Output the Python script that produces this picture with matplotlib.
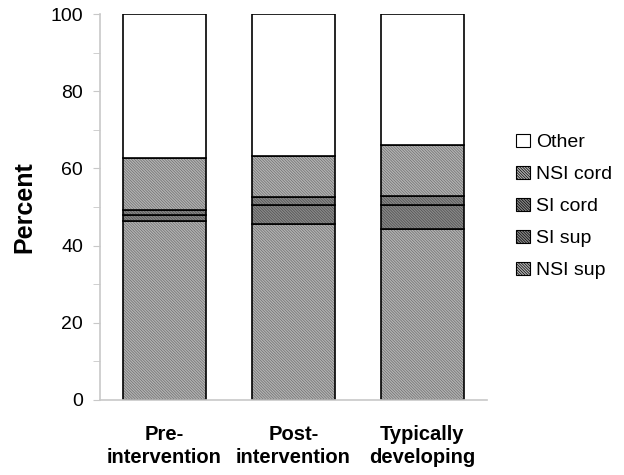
import numpy as np
import matplotlib.pyplot as plt
from matplotlib.patches import Patch
from matplotlib.ticker import MultipleLocator

plt.rcParams['font.family'] = ['Liberation Sans', 'DejaVu Sans']
plt.rcParams['hatch.linewidth'] = 0.5

groups = ["Pre-\nintervention", "Post-\nintervention", "Typically\ndeveloping"]
series = ["NSI sup", "SI sup", "SI cord", "NSI cord", "Other"]
nsi_sup = [46.4, 45.5, 44.3]
si_sup = [1.4, 5.0, 6.1]
si_cord = [1.4, 2.0, 2.4]
nsi_cord = [13.6, 10.8, 13.3]
other = [37.2, 36.7, 33.9]

values = [nsi_sup, si_sup, si_cord, nsi_cord, other]
faces = ["#b4b4b4", "#8a8a8a", "#8a8a8a", "#b4b4b4", "white"]
hatch_cols = ["#6e6e6e", "#4e4e4e", "#4e4e4e", "#6e6e6e", "black"]
hatches = ["\\" * 12, "\\" * 12, "\\" * 12, "\\" * 12, None]


def main():
    fig = plt.figure(figsize=(6.24, 4.75), dpi=100)
    ax = fig.add_axes([0.160, 0.158, 0.620, 0.8125])

    x = np.arange(len(groups))
    bottom = np.zeros(len(groups))
    handles = []
    for name, vals, fc, hc, h in zip(series, values, faces, hatch_cols, hatches):
        ax.bar(x, vals, 0.645, bottom=bottom, color=fc, hatch=h,
               edgecolor=hc, linewidth=0)
        # black outline on top of the hatch
        ax.bar(x, vals, 0.645, bottom=bottom, fill=False, edgecolor="black",
               linewidth=1.2)
        bottom += np.array(vals)
        handles.append(Patch(facecolor=fc, hatch=h, edgecolor=hc, label=name))

    ax.set_xlim(-0.5, 2.5)
    ax.set_ylim(0, 100)
    ax.set_xticks(x)
    ax.set_xticklabels(groups, fontsize=14.5, fontweight="bold", linespacing=1.25)
    ax.tick_params(axis="x", length=0, pad=18)
    ax.yaxis.set_major_locator(MultipleLocator(20))
    ax.yaxis.set_minor_locator(MultipleLocator(10))
    ax.tick_params(axis="y", which="both", colors="#c8c8c8", labelcolor="black",
                   labelsize=14, length=5, pad=7)
    ax.set_ylabel("Percent", fontsize=18, fontweight="bold", labelpad=10)

    for s in ["top", "right"]:
        ax.spines[s].set_visible(False)
    for s in ["left", "bottom"]:
        ax.spines[s].set_color("#c8c8c8")
        ax.spines[s].set_linewidth(1.2)

    # legend boxes with black outline, top entry first
    leg_handles = []
    for hd in handles[::-1]:
        leg_handles.append(Patch(facecolor=hd.get_facecolor(), hatch=hd.get_hatch(),
                                 edgecolor="black", linewidth=0.8,
                                 label=hd.get_label()))
    fig.legend(handles=leg_handles, loc="center left",
               bbox_to_anchor=(0.799, 0.565), frameon=False, fontsize=14,
               handlelength=0.7, handleheight=0.7, handletextpad=0.35,
               labelspacing=0.74)

    fig.savefig("out.png", dpi=100)


if __name__ == "__main__":
    main()
